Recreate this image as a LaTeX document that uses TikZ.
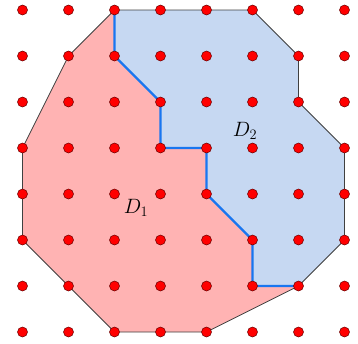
\documentclass[tikz,border=0pt]{standalone}
\begin{document}
\begin{tikzpicture}[x=1pt,y=-1pt,
  dot/.style={circle,fill=red,draw=black!60!red,line width=0.5pt,inner sep=0pt,minimum size=10pt},
  edge/.style={draw=black!75,line width=0.8pt},
  divide/.style={draw=bluel,line width=2.2pt,line join=round},
  lab/.style={font=\fontsize{21}{21}\selectfont}]
\definecolor{pinkf}{RGB}{255,179,179}
\definecolor{bluef}{RGB}{198,216,242}
\definecolor{bluel}{RGB}{25,118,240}
\useasboundingbox (0,0) rectangle (358,343);
\foreach \i in {0,...,7}{\foreach \j in {0,...,7}{
  \coordinate (p-\i-\j) at ({22.5+46*\i},{10+46*\j});}}
% regions
\fill[pinkf] (p-2-0) -- (p-2-1) -- (p-3-2) -- (p-3-3) -- (p-4-3) -- (p-4-4) -- (p-5-5) -- (p-5-6) -- (p-6-6)
  -- (p-4-7) -- (p-2-7) -- (p-1-6) -- (p-0-5) -- (p-0-3) -- (p-1-1) -- cycle;
\fill[bluef] (p-2-0) -- (p-2-1) -- (p-3-2) -- (p-3-3) -- (p-4-3) -- (p-4-4) -- (p-5-5) -- (p-5-6) -- (p-6-6)
  -- (p-7-5) -- (p-7-3) -- (p-6-2) -- (p-6-1) -- (p-5-0) -- cycle;
% outer boundary
\draw[edge] (p-2-0) -- (p-5-0) -- (p-6-1) -- (p-6-2) -- (p-7-3) -- (p-7-5) -- (p-6-6)
  -- (p-4-7) -- (p-2-7) -- (p-1-6) -- (p-0-5) -- (p-0-3) -- (p-1-1) -- cycle;
% dividing line
\draw[divide] (p-2-0) -- (p-2-1) -- (p-3-2) -- (p-3-3) -- (p-4-3) -- (p-4-4) -- (p-5-5) -- (p-5-6) -- (p-6-6);
% dots
\foreach \i in {0,...,7}{\foreach \j in {0,...,7}{
  \node[dot] (d-\i-\j) at (p-\i-\j) {};}}
% labels
\node[lab] (l1) at (136,208) {$D_1$};
\node[lab] (l2) at (245,131) {$D_2$};
\end{tikzpicture}
\end{document}
